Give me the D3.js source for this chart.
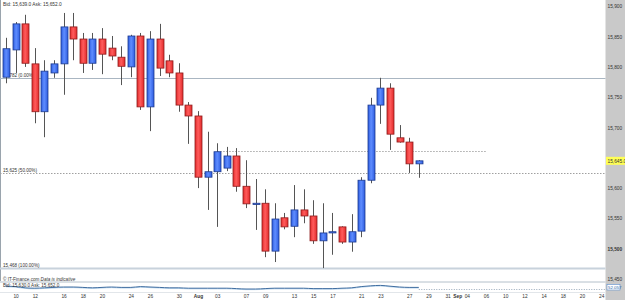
<!DOCTYPE html>
<html>
<head>
<meta charset="utf-8">
<script src="https://cdn.jsdelivr.net/npm/d3@7"></script>
<style>
  html, body { margin: 0; padding: 0; background: #fff; }
  svg { display: block; font-family: "Liberation Sans", Arial, sans-serif; }
</style>
</head>
<body>
<div id="chart"></div>
<script>
// trading days (Sunday sessions included until the last bar, weekdays after)
const dates = [
  "07-09","07-10","07-11","07-12","07-13","07-15","07-16","07-17","07-18","07-19","07-20",
  "07-22","07-23","07-24","07-25","07-26","07-27","07-29","07-30","07-31",
  "08-01","08-02","08-03","08-05","08-06","08-07","08-08","08-09","08-10","08-12","08-13",
  "08-14","08-15","08-16","08-17","08-19","08-20","08-21","08-22","08-23","08-24","08-26",
  "08-27","08-28","08-29","08-30","08-31",
  "09-03","09-04","09-05","09-06","09-07","09-10","09-11","09-12","09-13","09-14",
  "09-17","09-18","09-19","09-20","09-21","09-24"
];
const tickDates = ["07-10","07-12","07-16","07-18","07-20","07-24","07-26","07-30","08-01","08-03",
  "08-07","08-09","08-13","08-15","08-17","08-21","08-23","08-27","08-29","08-31","09-03","09-04",
  "09-06","09-10","09-12","09-14","09-18","09-20","09-24"];
const monthStarts = {"08-01": "Aug", "09-03": "Sep"};

const open  = [15783,15828,15871,15805,15726,15790,15805,15866,15846,15806,15846,15831,15816,15800,15851,15734,15846,15810,15790,15737,15719,15618,15627,15633,15653,15603,15573,15575,15496,15551,15537,15564,15554,15513,15527,15536,15511,15529,15613,15737,15765,15683,15676,15640];
const high  = [15848,15874,15886,15831,15811,15811,15889,15889,15856,15856,15864,15851,15834,15853,15856,15859,15871,15820,15806,15742,15727,15693,15674,15668,15666,15646,15615,15598,15575,15559,15605,15598,15580,15575,15559,15537,15557,15618,15749,15782,15773,15704,15683,15646];
const low   = [15773,15790,15800,15707,15684,15782,15754,15811,15790,15795,15788,15811,15770,15783,15729,15694,15785,15783,15726,15673,15600,15564,15536,15628,15594,15567,15531,15486,15478,15532,15519,15542,15508,15468,15490,15508,15495,15519,15608,15706,15663,15675,15625,15617];
const close = [15830,15871,15806,15726,15793,15805,15866,15846,15806,15846,15821,15818,15801,15851,15734,15846,15798,15790,15737,15719,15618,15627,15660,15653,15603,15574,15575,15496,15549,15536,15564,15554,15513,15526,15528,15511,15528,15613,15737,15765,15689,15676,15640,15645];

// lower indicator panel
const indicator = [6,5.5,4,3.5,4,4.5,5,5,4.5,4,4.5,5,4.5,4.5,5.5,5,4.5,4,4,3.5,3.5,3.5,3.5,3.5,3,2.5,2.5,3,3.5,3.5,3.5,3.5,3,3,3,3.5,4,5.5,6.5,7,6,5,4.5,4.5];

// 15,650 sits under the last-price marker, so it is left out
const yTicks = [15450,15500,15550,15600,15700,15750,15800,15850,15900];
const fibValues = [15782, 15625, 15468];
const fibPct = ["0.00%", "50.00%", "100.00%"];
const levelValue = 15661;
const levelFrom = "08-03", levelTo = "09-06";
const lastPrice = 15645.0;
const bidAskTop = "Bid: 15,639.0 Ask: 15,652.0";
const bidAskLow = "Bid: 15,630.0 Ask: 15,652.0";
const indLabel = "52.057";

const W = 625, H = 300, plotRight = 605.5;
const svg = d3.select("#chart").append("svg").attr("width", W).attr("height", H);

const x = d3.scalePoint().domain(dates).range([6, 601.2]);
const y = d3.scaleLinear().domain([15450, 15900]).range([279, 6.3]);
const yInd = d3.scaleLinear().domain([0, 10]).range([291, 283]);
const fmt = d3.format(",");

const defs = svg.append("defs");
function grad(id, edge, mid) {
  const g = defs.append("linearGradient").attr("id", id).attr("x1", 0).attr("x2", 1).attr("y1", 0).attr("y2", 0);
  g.append("stop").attr("offset", "0%").attr("stop-color", edge);
  g.append("stop").attr("offset", "45%").attr("stop-color", mid);
  g.append("stop").attr("offset", "100%").attr("stop-color", edge);
}
grad("gUp", "#2d5ce0", "#5f8dff");
grad("gDown", "#e22a2a", "#ff5c5c");

// right price panel
svg.append("rect").attr("x", plotRight).attr("y", 0).attr("width", W - plotRight).attr("height", H).attr("fill", "#c9c9c9");
// left border
svg.append("line").attr("x1", 0.5).attr("x2", 0.5).attr("y1", 0).attr("y2", 281).attr("stroke", "#9aa4ad");

// fibonacci lines
fibValues.forEach((v, i) => {
  const yy = Math.round(y(v)) + 0.5;
  const ln = svg.append("line").attr("x1", 0).attr("x2", plotRight).attr("y1", yy).attr("y2", yy);
  if (i === 1) ln.attr("stroke", "#a0a0a0").attr("stroke-dasharray", "1.5,1.5");
  else if (i === 0) ln.attr("stroke", "#aab6c2");
  else ln.attr("stroke", "#c8d2dc").attr("stroke-width", 2);
  svg.append("text").attr("x", 3).attr("y", yy - 2).attr("font-size", 4.6).attr("fill", "#333")
    .text(fmt(v) + " (" + fibPct[i] + ")");
});
// extra level
svg.append("line").attr("x1", x(levelFrom)).attr("x2", x(levelTo))
  .attr("y1", Math.round(y(levelValue)) + 0.5).attr("y2", Math.round(y(levelValue)) + 0.5)
  .attr("stroke", "#a8a8a8").attr("stroke-dasharray", "1.5,1.5");

// candles
const bars = d3.range(close.length);
const bw = 7;
const g = svg.append("g");
g.selectAll("line.wick").data(bars).join("line").attr("class", "wick")
  .attr("x1", i => Math.round(x(dates[i])) + 0.5).attr("x2", i => Math.round(x(dates[i])) + 0.5)
  .attr("y1", i => y(high[i])).attr("y2", i => y(low[i]))
  .attr("stroke", "#555").attr("stroke-width", 1);
g.selectAll("rect.body").data(bars).join("rect").attr("class", "body")
  .attr("x", i => Math.round(x(dates[i])) + 0.5 - bw / 2)
  .attr("y", i => y(Math.max(open[i], close[i])))
  .attr("width", bw)
  .attr("height", i => Math.max(1.2, Math.abs(y(open[i]) - y(close[i]))))
  .attr("fill", i => close[i] >= open[i] ? "url(#gUp)" : "url(#gDown)")
  .attr("stroke", i => close[i] >= open[i] ? "#1c3a8e" : "#8e1c1c")
  .attr("stroke-width", 0.8);

// top info text
svg.append("text").attr("x", 3).attr("y", 6).attr("font-size", 4.8).attr("fill", "#333").text(bidAskTop);

// copyright
const cp = svg.append("text").attr("x", 3).attr("y", 281).attr("font-size", 4.6).attr("fill", "#333");
cp.append("tspan").text("© IT-Finance.com  ");
cp.append("tspan").attr("font-style", "italic").text("Data is indicative");

// lower panel
svg.append("line").attr("x1", 0).attr("x2", plotRight).attr("y1", 282).attr("y2", 282).attr("stroke", "#b4c0ca");
svg.append("line").attr("x1", 0).attr("x2", plotRight).attr("y1", 292.5).attr("y2", 292.5).attr("stroke", "#e2e6ea");
svg.append("line").attr("x1", x(dates[close.length - 1])).attr("x2", plotRight).attr("y1", 289.5).attr("y2", 289.5)
  .attr("stroke", "#9ab").attr("stroke-dasharray", "1,1.5");
const line = d3.line().x((d, i) => x(dates[i])).y(d => yInd(d)).curve(d3.curveMonotoneX);
svg.append("path").datum(indicator.map(d => d - 0.8)).attr("d", line).attr("fill", "none").attr("stroke", "#a9cbe8").attr("stroke-width", 0.8);
svg.append("path").datum(indicator).attr("d", line).attr("fill", "none").attr("stroke", "#2c5f96").attr("stroke-width", 0.9);
svg.append("text").attr("x", 3).attr("y", 287).attr("font-size", 4.6).attr("fill", "#333").text(bidAskLow);

// y axis
const yAxis = svg.append("g").attr("transform", `translate(${plotRight + 2},0)`)
  .call(d3.axisRight(y).tickValues(yTicks).tickSize(0).tickPadding(0).tickFormat(fmt));
yAxis.select(".domain").remove();
yAxis.selectAll("text").attr("font-size", 4.8).attr("fill", "#333")
  .attr("font-family", "Liberation Sans, Arial, sans-serif")
  .attr("font-weight", d => d === 15500 ? "bold" : null);

// last price label
svg.append("rect").attr("x", plotRight + 0.5).attr("y", y(lastPrice) - 4).attr("width", W - plotRight).attr("height", 8).attr("fill", "#ffff55");
svg.append("text").attr("x", plotRight + 2).attr("y", y(lastPrice)).attr("dy", "0.35em").attr("font-size", 4.8).attr("fill", "#333")
  .text(d3.format(",.1f")(lastPrice));

// indicator label on the right
svg.append("rect").attr("x", plotRight + 1.5).attr("y", 284.5).attr("width", 13).attr("height", 5.5)
  .attr("fill", "#fff").attr("stroke", "#5b8fd0").attr("stroke-width", 0.6);
svg.append("text").attr("x", plotRight + 2.5).attr("y", 287.3).attr("dy", "0.35em").attr("font-size", 4.4).attr("fill", "#2a5fa5").text(indLabel);

// x axis
const xAxis = svg.append("g").attr("transform", "translate(0,293)")
  .call(d3.axisBottom(x).tickValues(tickDates).tickSize(0).tickPadding(2)
    .tickFormat(d => monthStarts[d] || d.slice(3)));
xAxis.select(".domain").remove();
xAxis.selectAll("text").attr("font-size", 4.8).attr("fill", "#333")
  .attr("font-family", "Liberation Sans, Arial, sans-serif")
  .attr("font-weight", d => monthStarts[d] ? "bold" : null);
</script>
</body>
</html>
